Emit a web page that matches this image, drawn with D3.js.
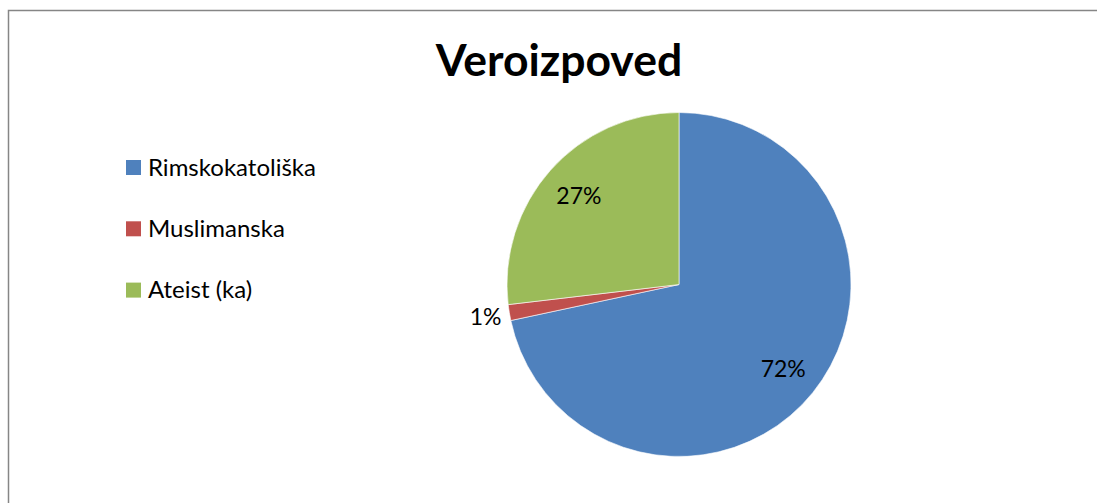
<!DOCTYPE html>
<html>
<head>
<meta charset="utf-8">
<script src="https://cdn.jsdelivr.net/npm/d3@7"></script>
<style>
  body { margin: 0; background: #fff; }
  svg text { font-family: Lato, "Open Sans", sans-serif; }
</style>
</head>
<body>
<div class="graph"></div>
<script>
//Data
const categories = ["Rimskokatoliška", "Muslimanska", "Ateist (ka)"];
const values = [48, 1, 18];
const colors = ["#4F81BD", "#C0504D", "#9BBB59"];
const title = "Veroizpoved";

let WIDTH = 1097,
    HEIGHT = 503;

let svg = d3
    .select(".graph")
    .append("svg")
    .attr("width", WIDTH)
    .attr("height", HEIGHT);

//Chart border (runs off the bottom and right of the picture)
svg.append("rect")
   .attr("x", 8.5)
   .attr("y", 10.5)
   .attr("width", 1100)
   .attr("height", 520)
   .style("fill", "none")
   .style("stroke", "#868686")
   .style("stroke-width", 1.5);

//Title
svg.append("text")
   .attr("x", 559)
   .attr("y", 76)
   .attr("text-anchor", "middle")
   .attr("font-size", "44.5px")
   .attr("font-weight", "bold")
   .style("fill", "#000")
   .text(title);

//Pie
const data = categories.map((c, i) => ({ name: c, value: values[i] }));
const total = d3.sum(values);

let colorScale = d3.scaleOrdinal().domain(categories).range(colors);

let pie = d3.pie().sort(null).value(d => d.value);
let RADIUS = 172;
let arc = d3.arc().innerRadius(0).outerRadius(RADIUS);
let labelArc = d3.arc().innerRadius(134).outerRadius(134);
let outsideArc = d3.arc().innerRadius(196).outerRadius(196);

let g = svg.append("g").attr("transform", "translate(679, 284.5)");

let arcs = pie(data);

g.selectAll(".slice")
 .data(arcs)
 .enter()
 .append("path")
 .attr("class", "slice")
 .attr("d", arc)
 .style("fill", d => colorScale(d.data.name))
 .style("stroke", "#fff")
 .style("stroke-width", 0.6);

//Percent labels, small slices go outside
g.selectAll(".label")
 .data(arcs)
 .enter()
 .append("text")
 .attr("class", "label")
 .attr("transform", d => {
     const p = (d.value / total < 0.05) ? outsideArc.centroid(d) : labelArc.centroid(d);
     return `translate(${p[0]}, ${p[1]})`;
 })
 .attr("text-anchor", "middle")
 .attr("dy", "0.35em")
 .attr("font-size", "23px")
 .style("fill", "#000")
 .text(d => Math.round(d.value / total * 100) + "%");

//Legend
let legend = svg.append("g")
   .selectAll(".legend")
   .data(categories)
   .enter()
   .append("g")
   .attr("transform", (d, i) => `translate(126, ${160 + i * 61.3})`);

legend.append("rect")
   .attr("width", 15)
   .attr("height", 15)
   .style("fill", d => colorScale(d));

legend.append("text")
   .attr("x", 22)
   .attr("y", 15.5)
   .attr("font-size", "24px")
   .style("fill", "#000")
   .text(d => d);
</script>
</body>
</html>
